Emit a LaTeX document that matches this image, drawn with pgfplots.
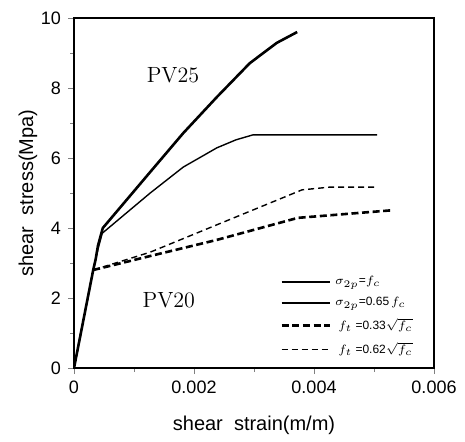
\documentclass[border=0pt]{standalone}
\usepackage{amsmath}
\usepackage{pgfplots}
\pgfplotsset{compat=1.18}
\usepackage{fontspec}
\setsansfont{Liberation Sans}
\begin{document}
\begin{tikzpicture}
\begin{axis}[
    scale only axis,
    width=180pt, height=175pt,
    xmin=0, xmax=0.006,
    ymin=0, ymax=10,
    xtick={0,0.002,0.004,0.006},
    xticklabels={0,0.002,0.004,0.006},
    minor xtick={0.001,0.003,0.005},
    ytick={0,2,4,6,8,10},
    minor ytick={1,3,5,7,9},
    scaled x ticks=false,
    /pgf/number format/assume math mode=true,
    tick pos=left,
    tick align=outside,
    major tick length=3pt,
    minor tick length=2pt,
    tick label style={font=\sffamily\fontsize{9}{10}\selectfont},
    xlabel={\sffamily\fontsize{10}{12}\selectfont shear\ \ strain(m/m)},
    ylabel={\sffamily\fontsize{10}{12}\selectfont shear\ \ stress(Mpa)},
    xlabel style={yshift=-4pt},
    ylabel style={yshift=-5pt},
    axis line style={line width=0.8pt},
    legend cell align=left,
    legend style={at={(axis cs:0.0034,2.8)}, anchor=north west, draw=none, fill=none,
        font=\sffamily\fontsize{6}{6.5}\selectfont, row sep=0.8pt, inner sep=1pt},
    legend image code/.code={\draw[#1] (0pt,0pt) -- (24pt,0pt);},
]
\addplot[black, line width=1.3pt] coordinates {
    (0,0) (0.00032,2.8) (0.00036,3.1) (0.0004,3.5) (0.00048,4.0)
    (0.00127,5.6) (0.00182,6.71) (0.00238,7.74) (0.00293,8.71)
    (0.00338,9.29) (0.00372,9.6)
};
\addlegendentry{$\sigma_{2p}$=$f_c$}
\addplot[black, line width=0.7pt] coordinates {
    (0,0) (0.00032,2.8) (0.0004,3.4) (0.00047,3.85) (0.00127,5.0)
    (0.00182,5.74) (0.00238,6.29) (0.0027,6.52) (0.00298,6.66) (0.00505,6.66)
};
\addlegendentry{$\sigma_{2p}$=0.65\,$f_c$}
\addplot[black, line width=1.3pt, dash pattern=on 3.5pt off 1.8pt] coordinates {
    (0.00032,2.8) (0.00127,3.2) (0.00238,3.66) (0.00373,4.29) (0.00532,4.51)
};
\addlegendentry{\ $f_t$\ =0.33$\sqrt{\smash[b]{f_c}}$}
\addplot[black, line width=0.7pt, dash pattern=on 3pt off 2pt] coordinates {
    (0.00032,2.8) (0.00127,3.31) (0.0038,5.09) (0.00427,5.17) (0.00505,5.17)
};
\addlegendentry{\ $f_t$\ =0.62$\sqrt{\smash[b]{f_c}}$}
\node[font=\fontsize{11}{12}\selectfont] at (axis cs:0.00165,8.37) {PV25};
\node[font=\fontsize{11}{12}\selectfont] at (axis cs:0.00158,1.94) {PV20};
\end{axis}
\pgfresetboundingbox
\path ([xshift=-37pt,yshift=-36.5pt]current axis.south west) rectangle ([xshift=15.5pt,yshift=9pt]current axis.north east);
\end{tikzpicture}
\end{document}
